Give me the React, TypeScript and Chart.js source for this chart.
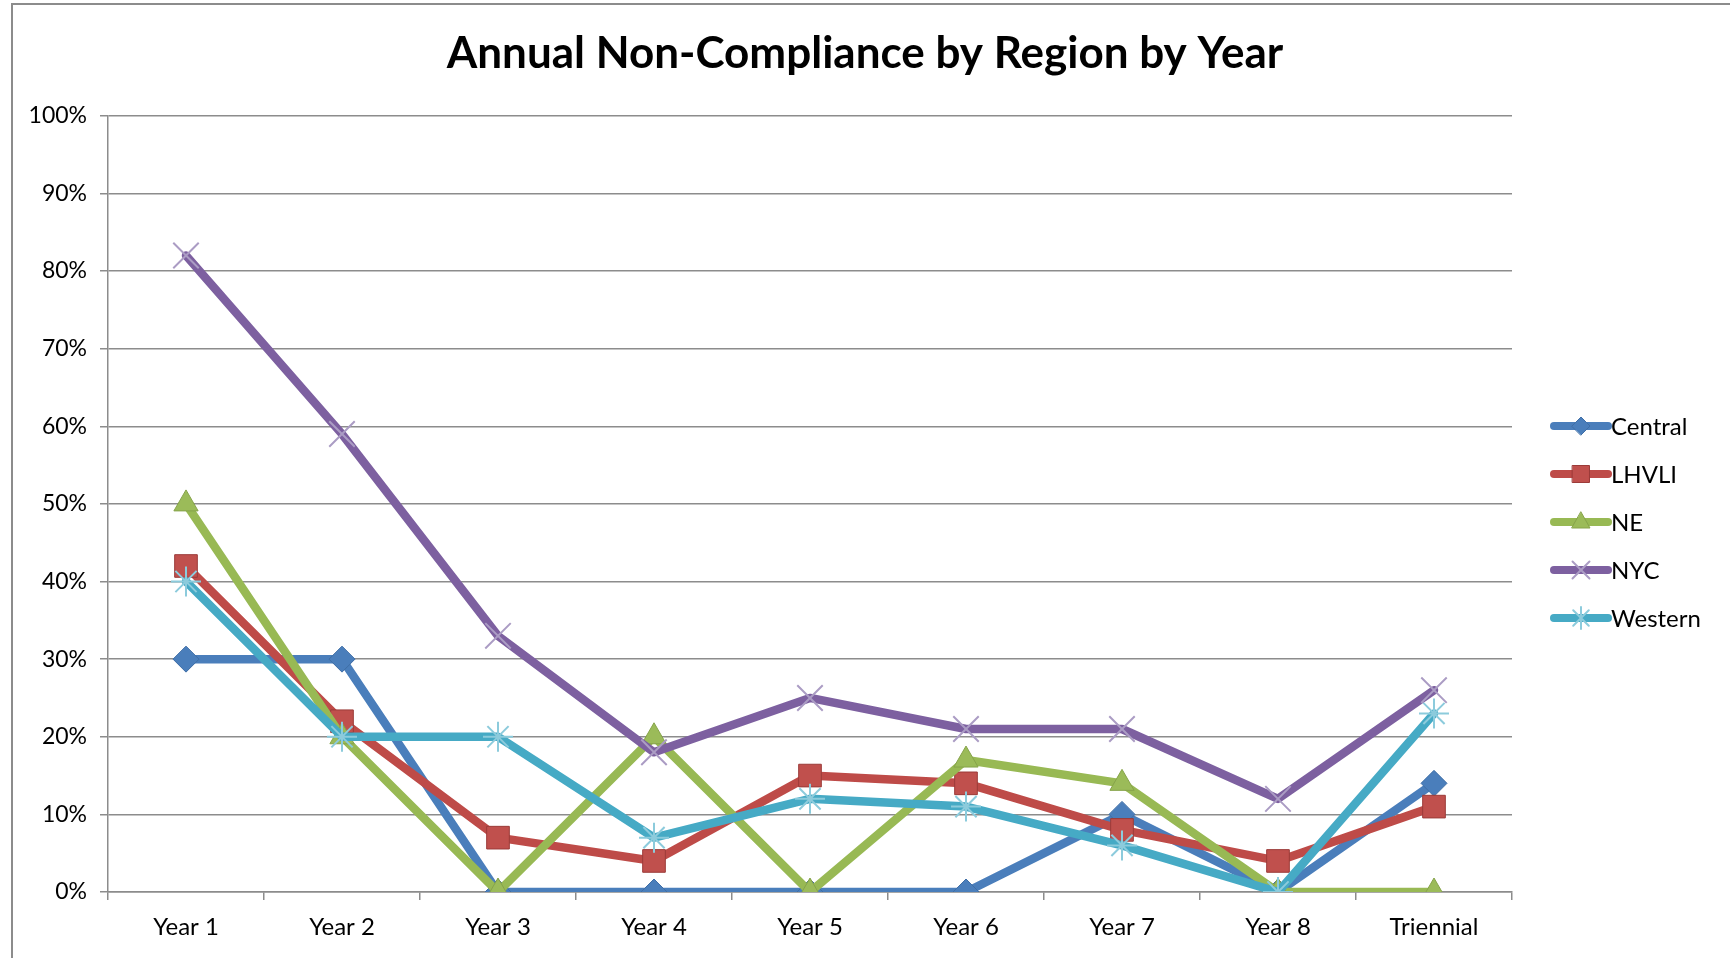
import React, { useEffect, useRef } from "react";
import { Chart, registerables } from "chart.js";

Chart.register(...registerables);

const categories = ["Year 1", "Year 2", "Year 3", "Year 4", "Year 5", "Year 6", "Year 7", "Year 8", "Triennial"];
const central = [30, 30, 0, 0, 0, 0, 10, 0, 14];
const lhvli = [42, 22, 7, 4, 15, 14, 8, 4, 11];
const ne = [50, 20, 0, 20, 0, 17, 14, 0, 0];
const nyc = [82, 59, 33, 18, 25, 21, 21, 12, 26];
const western = [40, 20, 20, 7, 12, 11, 6, 0, 23];
const seriesNames = ["Central", "LHVLI", "NE", "NYC", "Western"];
const titleText = "Annual Non-Compliance by Region by Year";

const W = 1730;
const H = 958;
const FONT = "Lato, 'Open Sans', sans-serif";

function drawPt(ctx: CanvasRenderingContext2D, style: string, r: number, x: number, y: number) {
  ctx.beginPath();
  if (style === "rectRot") {
    ctx.moveTo(x - r, y);
    ctx.lineTo(x, y - r);
    ctx.lineTo(x + r, y);
    ctx.lineTo(x, y + r);
    ctx.closePath();
    ctx.fill();
    ctx.stroke();
  } else if (style === "rect") {
    const s = r * Math.SQRT1_2;
    ctx.rect(x - s, y - s, 2 * s, 2 * s);
    ctx.fill();
    ctx.stroke();
  } else if (style === "triangle") {
    ctx.moveTo(x, y - r);
    ctx.lineTo(x + r * 0.9, y + r * 0.6);
    ctx.lineTo(x - r * 0.9, y + r * 0.6);
    ctx.closePath();
    ctx.fill();
    ctx.stroke();
  } else if (style === "crossRot") {
    const s = r * Math.SQRT1_2;
    ctx.moveTo(x - s, y - s);
    ctx.lineTo(x + s, y + s);
    ctx.moveTo(x - s, y + s);
    ctx.lineTo(x + s, y - s);
    ctx.stroke();
  } else if (style === "star") {
    const s = r * Math.SQRT1_2;
    ctx.moveTo(x - s, y - s);
    ctx.lineTo(x + s, y + s);
    ctx.moveTo(x - s, y + s);
    ctx.lineTo(x + s, y - s);
    ctx.moveTo(x, y - r);
    ctx.lineTo(x, y + r);
    ctx.stroke();
  }
}

const legendPlugin = {
  id: "lineLegend",
  afterDraw(chart: any) {
    const ctx = chart.ctx;
    const ys = [426, 474, 522, 570, 618];
    const x0 = 1554;
    const len = 54;
    chart.data.datasets.forEach((ds: any, i: number) => {
      const y = ys[i];
      ctx.save();
      ctx.strokeStyle = ds.borderColor;
      ctx.lineWidth = 8;
      ctx.lineCap = "round";
      ctx.beginPath();
      ctx.moveTo(x0, y);
      ctx.lineTo(x0 + len, y);
      ctx.stroke();
      ctx.fillStyle = ds.pointBackgroundColor;
      ctx.strokeStyle = ds.pointBorderColor;
      ctx.lineWidth = ds.pointBorderWidth;
      drawPt(ctx, ds.pointStyle, ds.legendRadius, x0 + len / 2, y);
      ctx.fillStyle = "#000";
      ctx.font = `24px ${FONT}`;
      ctx.textBaseline = "middle";
      ctx.textAlign = "left";
      ctx.fillText(ds.label, x0 + len + 3, y + 1);
      ctx.restore();
    });
  },
};

export default function App() {
  const ref = useRef<HTMLCanvasElement>(null);

  useEffect(() => {
    if (!ref.current) return;
    const mk = (
      label: string,
      data: number[],
      color: string,
      pointStyle: string,
      radius: number,
      pbg: string,
      pborder: string,
      pbw: number,
      order: number,
      legendRadius: number
    ) => ({
      label,
      data,
      borderColor: color,
      backgroundColor: color,
      borderWidth: 8.5,
      borderJoinStyle: "round",
      borderCapStyle: "round",
      tension: 0,
      pointStyle,
      pointRadius: radius,
      pointHoverRadius: radius,
      pointBackgroundColor: pbg,
      pointBorderColor: pborder,
      pointBorderWidth: pbw,
      order,
      legendRadius,
      yAxisID: "y",
    });

    const chart = new Chart(ref.current, {
      type: "line",
      data: {
        labels: categories,
        datasets: [
          mk(seriesNames[0], central, "#4A7EBB", "rectRot", 13, "#4A7EBB", "#3f6ea6", 1, 5, 9),
          mk(seriesNames[1], lhvli, "#BE4B48", "rect", 16, "#C0504D", "#9b3b39", 1, 4, 12),
          mk(seriesNames[2], ne, "#98B954", "triangle", 14, "#9BBB59", "#86a34a", 1, 3, 10),
          mk(seriesNames[3], nyc, "#7D60A0", "crossRot", 18, "rgba(0,0,0,0)", "#ab9cc4", 2, 2, 12),
          mk(seriesNames[4], western, "#46AAC5", "star", 15, "rgba(0,0,0,0)", "#8ccbdc", 2, 1, 11),
        ] as any,
      },
      options: {
        responsive: false,
        animation: false,
        devicePixelRatio: 1,
        layout: { padding: { left: 0, right: 0, top: 0, bottom: 0 } },
        plugins: {
          legend: { display: false },
          tooltip: { enabled: false },
          title: {
            display: true,
            text: titleText,
            color: "#000",
            font: { family: FONT, size: 44, weight: "bold", lineHeight: 1.2 },
            padding: { top: 27, bottom: 36 },
          },
        },
        scales: {
          x: {
            type: "category",
            offset: true,
            grid: {
              offset: true,
              drawOnChartArea: false,
              drawTicks: true,
              tickLength: 8,
              color: "#8c8c8c",
              lineWidth: 1.5,
            },
            border: { display: true, color: "#8c8c8c", width: 1.5 },
            ticks: {
              color: "#000",
              font: { family: FONT, size: 24 },
              padding: 13,
              maxRotation: 0,
              autoSkip: false,
            },
            afterFit: (s: any) => {
              s.height = 66;
            },
          },
          y: {
            position: "left",
            min: 0,
            max: 100,
            grid: {
              color: "#8c8c8c",
              lineWidth: 1.5,
              drawTicks: true,
              tickLength: 8,
            },
            border: { display: true, color: "#8c8c8c", width: 1.5 },
            ticks: {
              stepSize: 10,
              color: "#000",
              font: { family: FONT, size: 23 },
              padding: 13,
              callback: (v: any) => v + "%",
            },
            afterFit: (s: any) => {
              s.width = 108;
            },
          },
          yRight: {
            position: "right",
            min: 0,
            max: 100,
            grid: { display: false, drawOnChartArea: false, drawTicks: false },
            border: { display: false },
            ticks: { display: false },
            afterFit: (s: any) => {
              s.width = 218;
            },
          },
        },
      } as any,
      plugins: [legendPlugin],
    });
    return () => chart.destroy();
  }, []);

  return (
    <div style={{ position: "fixed", left: 0, top: 0, width: W, height: H, background: "#fff", overflow: "hidden" }}>
      <div
        style={{
          position: "absolute",
          left: 11,
          top: 3,
          width: 1800,
          height: 1000,
          border: "2px solid #8c8c8c",
        }}
      />
      <canvas ref={ref} width={W} height={H} style={{ position: "absolute", left: 0, top: 0, width: W, height: H }} />
    </div>
  );
}
